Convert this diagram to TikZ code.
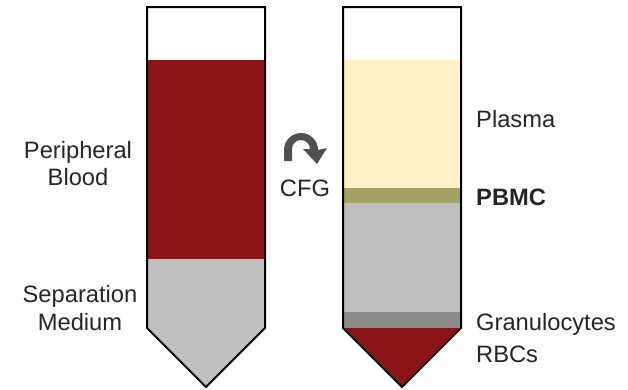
\documentclass[tikz,border=0pt]{standalone}
\usepackage{fontspec}
\setmainfont{Liberation Sans}
\definecolor{bloodred}{RGB}{139,21,22}
\definecolor{medgrey}{RGB}{191,191,191}
\definecolor{plasma}{RGB}{255,240,200}
\definecolor{pbmc}{RGB}{163,163,101}
\definecolor{granul}{RGB}{140,140,140}
\definecolor{arrowgrey}{RGB}{80,80,80}
\begin{document}
\begin{tikzpicture}[x=1pt,y=-1pt,
  lbl/.style={anchor=base,inner sep=0pt,font=\fontsize{23.7}{28}\selectfont,text=black!85},
  lblw/.style={lbl,anchor=base west},
  outline/.style={draw=black,line width=2pt,line join=miter}]
\useasboundingbox (0,0) rectangle (628,389);
% left tube
\fill[white] (147,7) rectangle (265,60);
\fill[bloodred] (147,60) rectangle (265,259);
\fill[medgrey] (147,259) -- (265,259) -- (265,328) -- (206,387) -- (147,328) -- cycle;
\draw[outline] (147,7) -- (265,7) -- (265,328) -- (206,387) -- (147,328) -- cycle;
% right tube
\fill[white] (343,7) rectangle (461,60);
\fill[plasma] (343,60) rectangle (461,188);
\fill[pbmc] (343,188) rectangle (461,203);
\fill[medgrey] (343,203) rectangle (461,312);
\fill[granul] (343,312) rectangle (461,328);
\fill[bloodred] (343,328) -- (461,328) -- (402,387) -- cycle;
\draw[outline] (343,7) -- (461,7) -- (461,328) -- (402,387) -- (343,328) -- cycle;
% curved arrow
\fill[arrowgrey] (284,161) -- (284,150) arc[start angle=180,end angle=360,radius=17]
  -- (327,148) -- (317,164) -- (303,149) -- (310,149)
  arc[start angle=0,end angle=-180,radius=9] -- (292,161) -- cycle;
% labels
\node[lbl] (per1) at (78,158) {Peripheral};
\node[lbl] (per2) at (78,185) {Blood};
\node[lbl] (sep1) at (80,302) {Separation};
\node[lbl] (sep2) at (80,330) {Medium};
\node[lbl] (cfg) at (305,196) {CFG};
\node[lblw] (plasma) at (476,127) {Plasma};
\node[lblw,font=\fontsize{23.7}{28}\selectfont\bfseries] (pbmcl) at (476,205) {PBMC};
\node[lblw] (gran) at (476,330) {Granulocytes};
\node[lblw] (rbc) at (476,362) {RBCs};
\end{tikzpicture}
\end{document}
